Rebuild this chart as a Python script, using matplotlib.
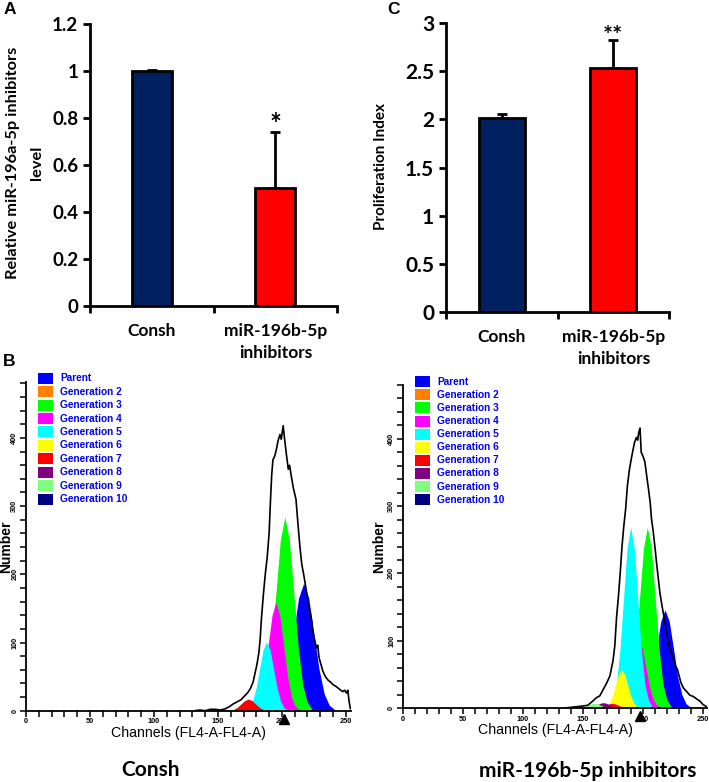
import numpy as np
import matplotlib
matplotlib.use("Agg")
import matplotlib.pyplot as plt
from matplotlib.patches import Rectangle
from matplotlib.ticker import MultipleLocator, FixedLocator
from matplotlib import font_manager

W, H = 709, 782

# ---------------- panels A and C (bar charts) ----------------
groups = ["Consh", "miR-196b-5p\ninhibitors"]
bar_colors = ["#002060", "#ff0000"]
mir_level = [1.0, 0.50]
mir_err = [0.006, 0.24]
prolif_index = [2.01, 2.53]
prolif_err = [0.05, 0.29]
mir_ticks = [0, 0.2, 0.4, 0.6, 0.8, 1.0, 1.2]
mir_ticklabels = ["0", "0.2", "0.4", "0.6", "0.8", "1", "1.2"]
prolif_ticks = [0, 0.5, 1, 1.5, 2, 2.5, 3]
prolif_ticklabels = ["0", "0.5", "1", "1.5", "2", "2.5", "3"]

# ---------------- panel B (ModFit proliferation histograms) ----------------
gen_names = ["Parent", "Generation 2", "Generation 3", "Generation 4", "Generation 5",
             "Generation 6", "Generation 7", "Generation 8", "Generation 9", "Generation 10"]
gen_colors = ["#0000ff", "#ff8000", "#00ff00", "#ff00ff", "#00ffff",
              "#ffff00", "#ff0000", "#800080", "#80ff80", "#000080"]

# raw histogram (black outline), Consh
consh_env_ch = [132, 136, 140, 144, 148, 152, 156, 159, 162, 165, 168, 171, 173.5, 175.5, 177.5,
                179, 180.5, 182, 183, 184, 185.5, 187, 188.5, 190, 191, 192, 193, 194.5, 196, 197,
                198.5, 199.5, 201, 202, 203.5, 205, 206, 207.5, 209, 211, 212.5, 214, 215.5, 217,
                218.5, 220, 221, 222, 223, 224, 225, 226, 227, 228, 229, 230.5, 232, 234, 236, 238,
                240, 242, 244, 246, 247.5, 249, 250.5, 251.5, 252.5, 253.5]
consh_env_n = [0, 1, 0, 2, 2, 1, 3, 6, 10, 13, 16, 22, 27, 33, 42,
               55, 68, 85, 105, 135, 170, 200, 225, 260, 305, 345, 368, 374, 386, 396,
               405, 398, 418, 400, 376, 354, 360, 342, 326, 310, 275, 242, 215, 200,
               183, 165, 150, 145, 135, 118, 108, 100, 92, 96, 78, 68, 58, 50, 45, 42,
               38, 36, 33, 30, 28, 30, 26, 30, 14, 3]

# raw histogram (black outline), miR-196b-5p inhibitors
inh_env_ch = [135, 140, 145, 150, 154, 158, 161, 164, 167, 170, 172.5, 175, 176.5, 178, 179.5,
              181, 182.5, 184, 185.5, 187, 188.5, 190, 191.5, 193, 194.5, 195.5, 196.5, 197.5,
              198.5, 200, 201.5, 203, 204.5, 206, 207, 208.5, 210, 211.5, 213, 214, 215.5, 217,
              218.5, 220, 222, 224, 225.5, 227, 228.5, 230, 231.5, 233.5, 236, 239, 242, 245,
              247.5, 250, 252, 254]
inh_env_n = [0, 1, 2, 3, 4, 10, 15, 18, 28, 38, 48, 70, 92, 135, 165,
             200, 240, 270, 295, 330, 352, 368, 382, 395, 402, 398, 410, 416,
             380, 374, 366, 346, 326, 305, 282, 262, 238, 212, 188, 172, 155, 140,
             125, 108, 90, 80, 72, 62, 58, 48, 38, 30, 25, 19, 17, 13,
             10, 5, 3, 1]

# fitted generation peaks (generation index, channels, counts); drawn parent first
consh_gens = [
    (0, [193, 197, 201, 205, 209, 213, 217, 221, 225, 229, 233, 237, 241],
        [2, 8, 25, 61, 113, 165, 187, 165, 113, 61, 25, 8, 2]),
    (2, [181.3, 184.8, 188.3, 191.8, 195.3, 198.8, 202.3, 205.8, 209.3, 212.8, 216.3, 219.8, 223.3],
        [3, 12, 38, 92, 172, 251, 284, 251, 172, 92, 38, 12, 3]),
    (3, [177.3, 180.3, 183.3, 186.3, 189.3, 192.3, 195.3, 198.3, 201.3, 204.3, 207.3, 210.3, 213.3],
        [2, 7, 21, 52, 97, 140, 159, 140, 97, 52, 21, 7, 2]),
    (4, [171.5, 174.3, 177, 179.8, 182.5, 185.3, 188, 190.8, 193.5, 196.3, 199, 201.8, 204.5],
        [1, 4, 14, 33, 61, 89, 101, 89, 61, 33, 14, 4, 1]),
    (6, [157.2, 160, 162.7, 165.5, 168.2, 171, 173.7, 176.5, 179.2, 182, 184.7, 187.5, 190.2],
        [0.2, 0.7, 2.3, 5.5, 10.3, 15, 17, 15, 10.3, 5.5, 2.3, 0.7, 0.2]),
    (8, [144.1, 146.6, 149.1, 151.6, 154.1, 156.6, 159.1, 161.6, 164.1, 166.6, 169.1, 171.6, 174.1],
        [0, 0.1, 0.3, 0.6, 1.2, 1.8, 2, 1.8, 1.2, 0.6, 0.3, 0.1, 0]),
    (9, [136.8, 139.3, 141.8, 144.3, 146.8, 149.3, 151.8, 154.3, 156.8, 159.3, 161.8, 164.3, 166.8],
        [0, 0.1, 0.2, 0.5, 0.9, 1.3, 1.5, 1.3, 0.9, 0.5, 0.2, 0.1, 0]),
]

inh_gens = [
    (0, [197.3, 200.8, 204.3, 207.8, 211.3, 214.8, 218.3, 221.8, 225.3, 228.8, 232.3, 235.8, 239.3],
        [1.6, 6.4, 20, 47, 89, 129, 146, 129, 89, 47, 20, 6.4, 1.6]),
    (2, [184.1, 187.4, 190.6, 193.9, 197.1, 200.4, 203.6, 206.9, 210.1, 213.4, 216.6, 219.9, 223.1],
        [3, 12, 36, 87, 163, 237, 269, 237, 163, 87, 36, 12, 3]),
    (3, [178.3, 181.3, 184.3, 187.3, 190.3, 193.3, 196.3, 199.3, 202.3, 205.3, 208.3, 211.3, 214.3],
        [1.1, 4.4, 13.5, 32.5, 60.7, 88.2, 100, 88.2, 60.7, 32.5, 13.5, 4.4, 1.1]),
    (4, [172.0, 174.9, 177.9, 180.8, 183.8, 186.7, 189.7, 192.7, 195.6, 198.6, 201.5, 204.5, 207.4],
        [3, 12, 36, 87, 163, 237, 269, 237, 163, 87, 36, 12, 3]),
    (5, [167.2, 169.7, 172.2, 174.7, 177.2, 179.7, 182.2, 184.7, 187.2, 189.7, 192.2, 194.7, 197.2],
        [0.6, 2.5, 7.7, 18.5, 34.6, 50, 57, 50, 34.6, 18.5, 7.7, 2.5, 0.6]),
    (6, [159.3, 161.8, 164.3, 166.8, 169.3, 171.8, 174.3, 176.8, 179.3, 181.8, 184.3, 186.8, 189.3],
        [0.1, 0.3, 0.9, 2.3, 4.2, 6.2, 7, 6.2, 4.2, 2.3, 0.9, 0.3, 0.1]),
    (7, [152, 154.5, 157, 159.5, 162, 164.5, 167, 169.5, 172, 174.5, 177, 179.5, 182],
        [0.1, 0.4, 1.1, 2.6, 4.9, 7.1, 8, 7.1, 4.9, 2.6, 1.1, 0.4, 0.1]),
    (8, [144.6, 147.1, 149.6, 152.1, 154.6, 157.1, 159.6, 162.1, 164.6, 167.1, 169.6, 172.1, 174.6],
        [0.1, 0.3, 0.9, 2.3, 4.2, 6.2, 7, 6.2, 4.2, 2.3, 0.9, 0.3, 0.1]),
    (9, [137.3, 139.8, 142.3, 144.8, 147.3, 149.8, 152.3, 154.8, 157.3, 159.8, 162.3, 164.8, 167.3],
        [0, 0.1, 0.2, 0.5, 0.9, 1.3, 1.5, 1.3, 0.9, 0.5, 0.2, 0.1, 0]),
]

consh_marker = 201.5
inh_marker = 197.2

# ---------------- fonts ----------------
installed = {f.name for f in font_manager.fontManager.ttflist}
TOP_FONT = ["Lato", "DejaVu Sans"]
ARIAL = ["Liberation Sans", "DejaVu Sans"]
if "Liberation Sans Narrow" in installed:
    NARROW, narrow_scale = ["Liberation Sans Narrow", "Liberation Sans"], 1.0
else:
    NARROW, narrow_scale = ARIAL, 0.85
plt.rcParams["font.family"] = TOP_FONT


def fx(px):
    return px / W


def fy(py):
    return 1 - py / H


fig = plt.figure(figsize=(W / 100, H / 100), dpi=100)


def bar_panel(rect, values, errs, ticks, ticklabels, width, tick_fs):
    ax = fig.add_axes(rect)
    x = np.arange(len(values))
    ax.bar(x, values, width=width, color=bar_colors, edgecolor="black", linewidth=2, zorder=3)
    ax.errorbar(x, values, yerr=[np.zeros(len(errs)), errs], fmt="none", ecolor="black",
                elinewidth=2, capsize=3.5, capthick=2, zorder=2)
    ax.set_xlim(-0.5, len(values) - 0.5)
    ax.set_ylim(ticks[0], ticks[-1])
    ax.set_yticks(ticks)
    ax.set_yticklabels(ticklabels, fontsize=tick_fs, fontweight="bold")
    ax.xaxis.set_major_locator(FixedLocator([-0.5, 0.5, 1.5]))
    ax.set_xticklabels([])
    ax.set_xticks(x, minor=True)
    ax.set_xticklabels(groups, minor=True, fontsize=12.5, fontweight="bold", linespacing=1.45)
    ax.tick_params(axis="x", which="minor", length=0, pad=12)
    ax.tick_params(axis="both", which="major", direction="out", length=5, width=2)
    for s in ["top", "right"]:
        ax.spines[s].set_visible(False)
    for s in ["left", "bottom"]:
        ax.spines[s].set_linewidth(2)
    ax.spines["bottom"].set_zorder(4)
    return ax


axA = bar_panel([fx(90), fy(306), fx(247), 282 / H], mir_level, mir_err,
                mir_ticks, mir_ticklabels, 0.32, 13.5)
axA.text(1, 0.77, "*", ha="center", va="center", fontsize=20, fontweight="bold")
fig.text(fx(13), fy(163), "Relative miR-196a-5p inhibitors", rotation=90, ha="center",
         va="center", fontsize=11.8, fontweight="bold")
fig.text(fx(37), fy(163), "level", rotation=90, ha="center", va="center",
         fontsize=11.8, fontweight="bold")

axC = bar_panel([fx(446), fy(312), fx(223), 289 / H], prolif_index, prolif_err,
                prolif_ticks, prolif_ticklabels, 0.41, 15)
axC.text(1, 2.86, "**", ha="center", va="center", fontsize=17, fontweight="bold")
fig.text(fx(381), fy(166), "Proliferation Index", rotation=90, ha="center", va="center",
         fontsize=11, fontweight="bold")

fig.text(fx(10), fy(9), "A", ha="center", va="center", fontsize=12.5, fontweight="bold",
         family=ARIAL)
fig.text(fx(394), fy(10), "C", ha="center", va="center", fontsize=12.5, fontweight="bold",
         family=ARIAL)
fig.text(fx(9), fy(362), "B", ha="center", va="center", fontsize=12.5, fontweight="bold",
         family=ARIAL)


def flow_panel(rect, gens, env_ch, env_n, marker_ch, xmax, ymax):
    ax = fig.add_axes(rect)
    for gi, ch, n in gens:
        ax.fill_between(ch, 0, n, color=gen_colors[gi], linewidth=0)
    ax.plot(env_ch, env_n, color="black", linewidth=1.2)
    ax.plot([marker_ch], [-12], marker="^", color="black", markersize=7, clip_on=False)
    ax.set_xlim(0, xmax)
    ax.set_ylim(0, ymax)
    ax.xaxis.set_major_locator(MultipleLocator(50))
    ax.xaxis.set_minor_locator(MultipleLocator(10))
    ax.yaxis.set_major_locator(MultipleLocator(100))
    ax.yaxis.set_minor_locator(MultipleLocator(20))
    ax.tick_params(which="both", direction="out", length=4, width=1.1,
                   labelsize=6.2 * narrow_scale, pad=1.5)
    for lab in ax.get_xticklabels() + ax.get_yticklabels():
        lab.set_family(NARROW)
        lab.set_fontweight("bold")
    for lab in ax.get_yticklabels():
        lab.set_rotation(90)
        lab.set_va("center")
    for s in ["top", "right"]:
        ax.spines[s].set_visible(False)
    for s in ["left", "bottom"]:
        ax.spines[s].set_linewidth(1.3)
    return ax


axB1 = flow_panel([fx(26), fy(710.7), fx(325), 328.7 / H], consh_gens,
                  consh_env_ch, consh_env_n, consh_marker, 254, 482)
axB2 = flow_panel([fx(402.7), fy(708), fx(304), 323 / H], inh_gens,
                  inh_env_ch, inh_env_n, inh_marker, 253, 480)

# legends
for x0, y0, step in [(38, 378.3, 13.42), (415, 381.7, 13.1)]:
    for i, (name, col) in enumerate(zip(gen_names, gen_colors)):
        yc = y0 + i * step
        fig.patches.append(Rectangle((fx(x0), fy(yc + 5.5)), fx(14.5), 11 / H,
                                     transform=fig.transFigure, facecolor=col,
                                     edgecolor="none"))
        fig.text(fx(x0 + 22), fy(yc), name, ha="left", va="center", fontsize=7.3,
                 fontweight="bold", color="#0000ff", family=ARIAL)

# axis titles for B
for xc, yc in [(6, 547), (379, 547)]:
    fig.text(fx(xc), fy(yc), "Number", rotation=90, ha="center", va="center",
             fontsize=10, fontweight="bold", family=ARIAL)
for xc, yc in [(188.5, 733), (555, 730)]:
    fig.text(fx(xc), fy(yc), "Channels (FL4-A-FL4-A)", ha="center", va="center",
             fontsize=12 * narrow_scale, family=NARROW)

fig.text(fx(150), fy(770), "Consh", ha="center", va="center", fontsize=15, fontweight="bold")
fig.text(fx(588), fy(771), "miR-196b-5p inhibitors", ha="center", va="center",
         fontsize=15, fontweight="bold")

fig.savefig("out.png", dpi=100)
